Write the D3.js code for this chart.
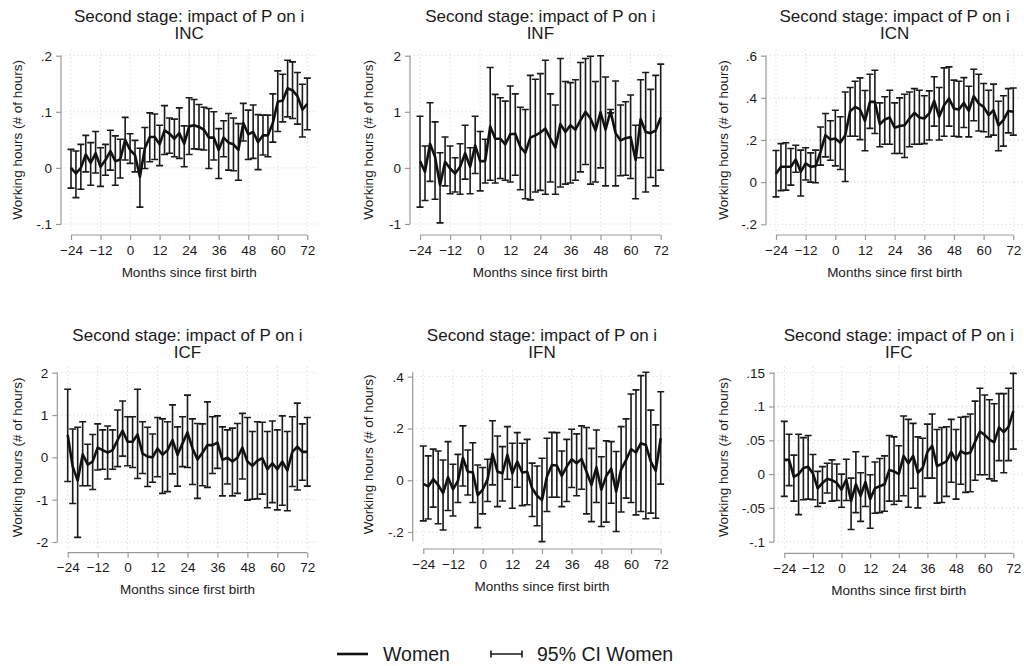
<!DOCTYPE html>
<html>
<head>
<meta charset="utf-8">
<script src="https://cdn.jsdelivr.net/npm/d3@7"></script>
<style>
  body { margin: 0; background: #fff; }
  svg { display: block; font-family: "Liberation Sans", Arial, sans-serif; }
</style>
</head>
<body>
<script>
// Months since first birth (x categories)
const months = [-24, -22, -20, -18, -16, -14, -12, -10, -8, -6, -4, -2, 0, 2, 4, 6, 8, 10, 12, 14, 16, 18, 20, 22, 24,
                26, 28, 30, 32, 34, 36, 38, 40, 42, 44, 46, 48, 50, 52, 54, 56, 58, 60, 62, 64, 66, 68, 70, 72];
const xTicks = [-24, -12, 0, 12, 24, 36, 48, 60, 72];

// INC
const incEst = [0.000, -0.010, 0.000, 0.024, 0.009, 0.026, 0.002, 0.014, 0.030, 0.012, 0.015, 0.050, 0.032, 0.023, -0.016, 0.035, 0.055, 0.055, 0.042, 0.067, 0.061, 0.052, 0.062, 0.043, 0.074,
                0.076, 0.073, 0.068, 0.054, 0.054, 0.032, 0.054, 0.045, 0.042, 0.032, 0.080, 0.060, 0.064, 0.046, 0.058, 0.058, 0.080, 0.118, 0.120, 0.142, 0.138, 0.128, 0.104, 0.114];
const incHi = [0.033, 0.030, 0.042, 0.058, 0.045, 0.065, 0.036, 0.042, 0.067, 0.057, 0.051, 0.090, 0.061, 0.049, 0.035, 0.072, 0.098, 0.096, 0.076, 0.111, 0.089, 0.087, 0.107, 0.075, 0.125,
               0.122, 0.113, 0.108, 0.106, 0.100, 0.070, 0.084, 0.097, 0.089, 0.079, 0.115, 0.103, 0.112, 0.095, 0.094, 0.094, 0.132, 0.173, 0.167, 0.192, 0.189, 0.170, 0.149, 0.160];
const incLo = [-0.036, -0.053, -0.038, -0.007, -0.031, -0.009, -0.033, -0.013, -0.004, -0.031, -0.018, 0.014, 0.008, -0.007, -0.070, -0.001, 0.011, 0.015, 0.004, 0.024, 0.026, 0.020, 0.017, 0.002, 0.024,
               0.034, 0.033, 0.032, -0.001, 0.014, -0.019, 0.020, -0.004, -0.005, -0.022, 0.048, 0.015, 0.017, -0.003, 0.023, 0.020, 0.046, 0.065, 0.082, 0.091, 0.088, 0.078, 0.055, 0.068];
const incTicks = [-0.1, 0, 0.1, 0.2];
const incLabels = ["-.1", "0", ".1", ".2"];

// INF
const infEst = [0.12, -0.07, 0.43, 0.20, -0.31, 0.11, -0.01, -0.10, 0.02, 0.26, 0.02, 0.40, 0.12, 0.12, 0.74, 0.52, 0.52, 0.42, 0.60, 0.61, 0.375, 0.27, 0.54, 0.58, 0.63,
                0.70, 0.52, 0.36, 0.78, 0.64, 0.76, 0.68, 0.85, 1.00, 0.88, 0.67, 0.99, 0.68, 1.01, 0.62, 0.49, 0.53, 0.55, 0.14, 0.87, 0.64, 0.62, 0.67, 0.90];
const infHi = [0.92, 0.39, 1.16, 0.82, 0.27, 0.55, 0.39, 0.18, 0.43, 0.76, 0.36, 0.92, 0.65, 0.51, 1.79, 1.31, 1.25, 1.19, 1.46, 1.32, 1.08, 1.04, 1.65, 1.58, 1.68,
               1.92, 1.32, 1.12, 1.95, 1.54, 1.52, 1.57, 1.88, 1.95, 1.99, 1.54, 2.00, 1.62, 1.04, 1.55, 1.12, 1.18, 1.30, 0.76, 1.57, 1.70, 1.40, 1.65, 1.85];
const infLo = [-0.70, -0.58, -0.24, -0.56, -0.98, -0.32, -0.46, -0.43, -0.47, -0.20, -0.46, -0.10, -0.41, -0.27, -0.22, -0.27, -0.19, -0.22, -0.25, -0.13, -0.39, -0.55, -0.57, -0.43, -0.40,
               -0.47, -0.25, -0.47, -0.34, -0.29, -0.27, -0.22, -0.07, 0.06, -0.29, -0.25, 0.00, -0.32, 0.98, -0.32, -0.14, -0.13, -0.19, -0.55, 0.18, -0.43, -0.17, -0.32, -0.04];
const infTicks = [-1, 0, 1, 2];
const infLabels = ["-1", "0", "1", "2"];

// ICN
const icnEst = [0.040, 0.073, 0.073, 0.073, 0.107, 0.049, 0.089, 0.073, 0.076, 0.144, 0.223, 0.202, 0.207, 0.187, 0.223, 0.337, 0.357, 0.345, 0.290, 0.381, 0.381, 0.275, 0.297, 0.307, 0.258,
                0.266, 0.270, 0.302, 0.329, 0.307, 0.302, 0.326, 0.386, 0.310, 0.365, 0.397, 0.349, 0.345, 0.376, 0.338, 0.408, 0.373, 0.357, 0.318, 0.341, 0.270, 0.294, 0.338, 0.334];
const icnHi = [0.150, 0.183, 0.187, 0.160, 0.175, 0.152, 0.163, 0.139, 0.152, 0.262, 0.326, 0.291, 0.341, 0.310, 0.428, 0.449, 0.479, 0.495, 0.435, 0.512, 0.531, 0.376, 0.405, 0.436, 0.376,
               0.400, 0.417, 0.428, 0.444, 0.436, 0.410, 0.433, 0.500, 0.449, 0.542, 0.547, 0.484, 0.479, 0.496, 0.455, 0.536, 0.512, 0.468, 0.436, 0.465, 0.384, 0.410, 0.444, 0.447];
const icnLo = [-0.070, -0.040, -0.038, -0.014, 0.047, -0.066, 0.010, 0.000, -0.003, 0.081, 0.120, 0.104, 0.077, 0.060, 0.003, 0.218, 0.218, 0.202, 0.149, 0.255, 0.231, 0.168, 0.180, 0.180, 0.136,
               0.136, 0.117, 0.168, 0.180, 0.180, 0.183, 0.200, 0.266, 0.200, 0.218, 0.266, 0.218, 0.215, 0.259, 0.215, 0.291, 0.243, 0.239, 0.215, 0.223, 0.149, 0.171, 0.234, 0.223];
const icnTicks = [-0.2, 0, 0.2, 0.4, 0.6];
const icnLabels = ["-.2", "0", ".2", ".4", ".6"];

// ICF
const icfEst = [0.53, -0.22, -0.55, 0.07, -0.17, -0.10, 0.23, 0.17, 0.11, 0.17, 0.41, 0.63, 0.37, 0.37, 0.54, 0.09, 0.02, 0.00, 0.21, 0.06, 0.17, 0.41, 0.06, 0.33, 0.59,
                0.21, -0.05, 0.11, 0.29, 0.29, 0.35, -0.06, -0.01, -0.10, -0.01, 0.23, -0.10, -0.20, -0.08, -0.02, -0.28, -0.14, -0.28, -0.10, -0.31, 0.13, 0.25, 0.13, 0.13];
const icfHi = [1.61, 0.67, 0.71, 0.84, 0.31, 0.54, 0.79, 0.65, 0.74, 0.65, 1.12, 1.33, 0.96, 0.96, 1.61, 0.84, 0.71, 0.55, 0.94, 0.91, 0.84, 1.24, 0.72, 0.96, 1.47,
               0.91, 0.80, 0.79, 1.31, 0.96, 0.98, 0.72, 0.65, 0.69, 0.80, 1.04, 0.94, 0.61, 0.84, 0.83, 0.61, 0.86, 0.65, 0.98, 0.61, 0.96, 1.28, 0.79, 0.94];
const icfLo = [-0.57, -1.09, -1.89, -0.67, -0.67, -0.76, -0.30, -0.28, -0.51, -0.28, -0.22, 0.03, -0.20, -0.24, -0.50, -0.38, -0.69, -0.59, -0.46, -0.85, -0.81, -0.39, -0.68, -0.22, -0.24,
               -0.64, -0.97, -0.67, -0.71, -0.38, -0.26, -0.91, -0.63, -0.91, -0.85, -0.51, -1.01, -0.99, -0.98, -0.87, -1.19, -1.07, -1.24, -1.13, -1.26, -0.69, -0.77, -0.54, -0.68];
const icfTicks = [-2, -1, 0, 1, 2];
const icfLabels = ["-2", "-1", "0", "1", "2"];

// IFN
const ifnEst = [-0.014, -0.024, 0.004, -0.018, -0.050, 0.012, -0.035, -0.003, 0.087, 0.033, 0.031, -0.057, -0.037, 0.004, 0.102, 0.033, 0.027, 0.098, 0.027, 0.072, 0.030, 0.033, -0.031, -0.060, -0.076,
                0.014, 0.059, 0.057, 0.017, 0.053, 0.081, 0.066, 0.082, 0.033, -0.018, 0.050, -0.037, 0.017, 0.044, -0.044, 0.042, 0.078, 0.120, 0.107, 0.143, 0.136, 0.072, 0.036, 0.162];
const ifnHi = [0.132, 0.094, 0.120, 0.113, 0.078, 0.149, 0.062, 0.100, 0.210, 0.117, 0.145, 0.059, 0.049, 0.081, 0.230, 0.171, 0.130, 0.207, 0.143, 0.184, 0.143, 0.158, 0.066, 0.055, 0.085,
               0.162, 0.185, 0.184, 0.113, 0.158, 0.197, 0.179, 0.210, 0.204, 0.123, 0.194, 0.091, 0.152, 0.149, 0.111, 0.207, 0.237, 0.333, 0.349, 0.404, 0.417, 0.271, 0.214, 0.342];
const ifnLo = [-0.157, -0.150, -0.104, -0.168, -0.192, -0.117, -0.138, -0.086, -0.022, -0.057, -0.086, -0.183, -0.130, -0.082, -0.018, -0.102, -0.080, 0.004, -0.108, -0.027, -0.098, -0.095, -0.140, -0.176, -0.237,
               -0.121, -0.066, -0.066, -0.102, -0.082, -0.028, -0.060, -0.035, -0.130, -0.160, -0.086, -0.179, -0.162, -0.089, -0.198, -0.123, -0.069, -0.086, -0.134, -0.121, -0.149, -0.127, -0.147, -0.015];
const ifnTicks = [-0.2, 0, 0.2, 0.4];
const ifnLabels = ["-.2", "0", ".2", ".4"];

// IFC
const ifcEst = [0.021, 0.021, -0.004, 0.000, 0.009, 0.011, 0.001, -0.021, -0.013, -0.007, -0.009, -0.013, -0.023, -0.008, -0.040, -0.015, -0.032, -0.012, -0.037, -0.021, -0.018, -0.015, 0.006, 0.004, 0.000,
                0.027, 0.016, 0.027, 0.002, 0.009, 0.033, 0.042, 0.012, 0.015, 0.019, 0.033, 0.020, 0.034, 0.030, 0.032, 0.048, 0.063, 0.058, 0.051, 0.047, 0.069, 0.062, 0.070, 0.093];
const ifcHi = [0.078, 0.059, 0.028, 0.059, 0.054, 0.057, 0.029, 0.004, 0.011, 0.016, 0.021, 0.015, 0.000, 0.022, -0.006, 0.033, 0.002, 0.026, -0.001, 0.018, 0.023, 0.027, 0.057, 0.055, 0.042,
               0.086, 0.081, 0.075, 0.055, 0.053, 0.074, 0.089, 0.066, 0.069, 0.070, 0.081, 0.066, 0.084, 0.085, 0.089, 0.108, 0.127, 0.117, 0.110, 0.104, 0.119, 0.119, 0.127, 0.149];
const ifcLo = [-0.033, -0.017, -0.040, -0.060, -0.038, -0.037, -0.038, -0.048, -0.043, -0.028, -0.040, -0.039, -0.049, -0.039, -0.082, -0.057, -0.070, -0.048, -0.080, -0.058, -0.057, -0.055, -0.040, -0.045, -0.040,
               -0.032, -0.049, -0.021, -0.050, -0.033, -0.006, -0.006, -0.043, -0.042, -0.033, -0.012, -0.037, -0.015, -0.027, -0.026, -0.009, -0.001, -0.001, -0.007, -0.010, 0.020, 0.002, 0.020, 0.037];
const ifcTicks = [-0.1, -0.05, 0, 0.05, 0.1, 0.15];
const ifcLabels = ["-.1", "-.05", "0", ".05", ".1", ".15"];

const panelNames = ["INC", "INF", "ICN", "ICF", "IFN", "IFC"];
const titleText = "Second stage: impact of P on i";
const xTitle = "Months since first birth";
const yTitle = "Working hours (# of hours)";
const legendLabels = ["Women", "95% CI Women"];

// panel data and layout (pixel boxes of each plot)
const panels = [
  { name: panelNames[0], est: incEst, lo: incLo, hi: incHi, ticks: incTicks, labels: incLabels,
    axisX: 61, x0: 71, x1: 307.3, yTop: 55.7, yBot: 224, axisY: 235, titleY: 16, ytX: 17 },
  { name: panelNames[1], est: infEst, lo: infLo, hi: infHi, ticks: infTicks, labels: infLabels,
    axisX: 410, x0: 420, x1: 660.7, yTop: 55.7, yBot: 224, axisY: 235, titleY: 16, ytX: 368 },
  { name: panelNames[2], est: icnEst, lo: icnLo, hi: icnHi, ticks: icnTicks, labels: icnLabels,
    axisX: 766, x0: 776, x1: 1013.3, yTop: 55.7, yBot: 224.3, axisY: 235, titleY: 16, ytX: 723 },
  { name: panelNames[3], est: icfEst, lo: icfLo, hi: icfHi, ticks: icfTicks, labels: icfLabels,
    axisX: 57.3, x0: 67.7, x1: 307.3, yTop: 372.7, yBot: 542, axisY: 552.7, titleY: 335, ytX: 17 },
  { name: panelNames[4], est: ifnEst, lo: ifnLo, hi: ifnHi, ticks: ifnTicks, labels: ifnLabels,
    axisX: 412.7, x0: 423.3, x1: 660.7, yTop: 376.7, yBot: 532, axisY: 549, titleY: 335, ytX: 368 },
  { name: panelNames[5], est: ifcEst, lo: ifcLo, hi: ifcHi, ticks: ifcTicks, labels: ifcLabels,
    axisX: 774, x0: 784.3, x1: 1013.3, yTop: 372.7, yBot: 541.7, axisY: 553.3, titleY: 335, ytX: 723 }
];

const svg = d3.select("body").append("svg")
    .attr("width", 1024)
    .attr("height", 666);

const axisColor = "#999";
const textColor = "#1a1a1a";

panels.forEach(p => {
  const g = svg.append("g");
  const x = d3.scaleLinear().domain([-24, 72]).range([p.x0, p.x1]);
  const tks = p.ticks;
  const y = d3.scaleLinear().domain([tks[0], tks[tks.length - 1]]).range([p.yBot, p.yTop]);
  const pad = p.x0 - p.axisX;
  const right = p.x1 + pad;
  const top = p.yTop - 6;
  const bottom = p.axisY - 4;

  // dotted grid
  g.selectAll("line.hg").data(tks).enter().append("line")
    .attr("x1", p.axisX).attr("x2", right)
    .attr("y1", d => y(d)).attr("y2", d => y(d))
    .attr("stroke", "#cfcfcf").attr("stroke-width", 1).attr("stroke-dasharray", "1,3");
  g.selectAll("line.vg").data(xTicks).enter().append("line")
    .attr("x1", d => x(d)).attr("x2", d => x(d))
    .attr("y1", top).attr("y2", bottom)
    .attr("stroke", "#cfcfcf").attr("stroke-width", 1).attr("stroke-dasharray", "1,3");

  // y axis
  const yMin = Math.min(tks[0], d3.min(p.lo));
  const yMax = Math.max(tks[tks.length - 1], d3.max(p.hi));
  const yAxis = g.append("g")
    .attr("transform", `translate(${p.axisX},0)`)
    .call(d3.axisLeft(y).tickValues(tks).tickFormat((d, i) => p.labels[i]).tickSize(5).tickPadding(4));
  yAxis.select(".domain").attr("d", `M0,${y(yMax)}V${y(yMin)}`);
  yAxis.selectAll("line, path").attr("stroke", axisColor).attr("stroke-width", 1.2);
  yAxis.selectAll("text").attr("font-size", 13.5).attr("fill", textColor)
    .attr("font-family", "Liberation Sans, Arial, sans-serif");

  // x axis
  const xAxis = g.append("g")
    .attr("transform", `translate(0,${p.axisY})`)
    .call(d3.axisBottom(x).tickValues(xTicks).tickSize(5).tickPadding(5));
  xAxis.select(".domain").attr("d", `M${x(-24)},0H${x(72)}`);
  xAxis.selectAll("line, path").attr("stroke", axisColor).attr("stroke-width", 1.2);
  xAxis.selectAll("text").attr("font-size", 13.5).attr("fill", textColor)
    .attr("font-family", "Liberation Sans, Arial, sans-serif");

  // error bars
  const idx = d3.range(months.length);
  const cap = 3.5;
  const bars = g.append("g").attr("stroke", "#1a1a1a").attr("stroke-width", 1.6).attr("fill", "none");
  bars.selectAll("path").data(idx).enter().append("path")
    .attr("d", i => {
      const cx = x(months[i]), yh = y(p.hi[i]), yl = y(p.lo[i]);
      return `M${cx - cap},${yh}H${cx + cap}M${cx},${yh}V${yl}M${cx - cap},${yl}H${cx + cap}`;
    });

  // point estimate line
  g.append("path")
    .datum(idx)
    .attr("fill", "none")
    .attr("stroke", "#111")
    .attr("stroke-width", 2.6)
    .attr("stroke-linejoin", "round")
    .attr("d", d3.line().x(i => x(months[i])).y(i => y(p.est[i])));

  // titles
  const cx = (p.axisX + right) / 2;
  g.append("text").attr("x", cx).attr("y", p.titleY).attr("text-anchor", "middle")
    .attr("dominant-baseline", "central").attr("font-size", 17).attr("fill", textColor)
    .text(titleText);
  g.append("text").attr("x", cx).attr("y", p.titleY + 17).attr("text-anchor", "middle")
    .attr("dominant-baseline", "central").attr("font-size", 17).attr("fill", textColor)
    .text(p.name);
  g.append("text").attr("x", (p.x0 + p.x1) / 2).attr("y", p.axisY + 37).attr("text-anchor", "middle")
    .attr("dominant-baseline", "central").attr("font-size", 13.5).attr("fill", textColor)
    .text(xTitle);
  g.append("text")
    .attr("transform", `translate(${p.ytX},${(p.yTop + p.yBot) / 2}) rotate(-90)`)
    .attr("text-anchor", "middle").attr("dominant-baseline", "central")
    .attr("font-size", 13.5).attr("fill", textColor)
    .text(yTitle);
});

// legend
const leg = svg.append("g");
const legY = 654;
leg.append("line").attr("x1", 337).attr("x2", 368).attr("y1", legY).attr("y2", legY)
  .attr("stroke", "#111").attr("stroke-width", 2.6);
leg.append("text").attr("x", 383).attr("y", legY).attr("dominant-baseline", "central")
  .attr("font-size", 19.5).attr("fill", textColor).text(legendLabels[0]);
leg.append("path").attr("d", `M491,${legY}H522M491,${legY - 3.5}V${legY + 3.5}M522,${legY - 3.5}V${legY + 3.5}`)
  .attr("stroke", "#1a1a1a").attr("stroke-width", 1.6).attr("fill", "none");
leg.append("text").attr("x", 537).attr("y", legY).attr("dominant-baseline", "central")
  .attr("font-size", 19.5).attr("fill", textColor).text(legendLabels[1]);
</script>
</body>
</html>
